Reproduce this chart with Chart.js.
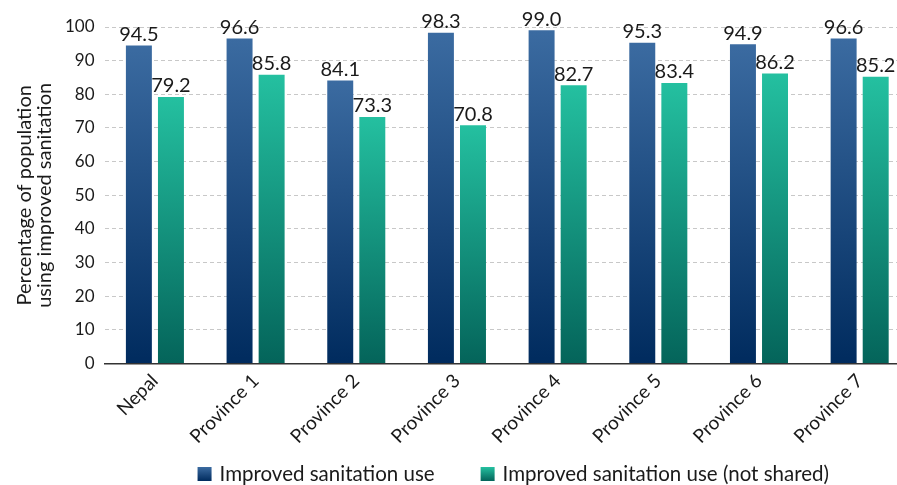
<!DOCTYPE html>
<html>
<head>
<meta charset="utf-8">
<script src="https://cdn.jsdelivr.net/npm/chart.js@4.4.1/dist/chart.umd.min.js"></script>
<style>
  html, body { margin: 0; padding: 0; background: #fff; overflow: hidden; }
  #wrap { width: 910px; height: 485px; }
</style>
</head>
<body>
<div id="wrap"><canvas id="chart"></canvas></div>
<script>
const regions = ["Nepal", "Province 1", "Province 2", "Province 3", "Province 4", "Province 5", "Province 6", "Province 7"];
const improvedUse = [94.5, 96.6, 84.1, 98.3, 99.0, 95.3, 94.9, 96.6];
const notShared = [79.2, 85.8, 73.3, 70.8, 82.7, 83.4, 86.2, 85.2];
const yTicks = [0, 10, 20, 30, 40, 50, 60, 70, 80, 90, 100];
const seriesNames = ["Improved sanitation use", "Improved sanitation use (not shared)"];

const FONT = "Lato, 'Open Sans', sans-serif";
const TEXT = "#1a1a1a";
const blueStops = ["#3b6ba1", "#002b5e"];
const greenStops = ["#24c0a0", "#04645a"];

// vertical gradient from the top of each bar down to the baseline
function barGradient(stops) {
  return (ctx) => {
    const chart = ctx.chart;
    const y = chart.scales.y;
    if (!chart.chartArea || !y || ctx.raw == null) return stops[1];
    const top = y.getPixelForValue(ctx.raw);
    const bottom = y.getPixelForValue(0);
    const g = chart.ctx.createLinearGradient(0, top, 0, bottom);
    g.addColorStop(0, stops[0]);
    g.addColorStop(1, stops[1]);
    return g;
  };
}

// value labels above each bar
const valueLabels = {
  id: "valueLabels",
  afterDatasetsDraw(chart) {
    const c = chart.ctx;
    c.save();
    c.font = "20px " + FONT;
    c.fillStyle = TEXT;
    c.textAlign = "center";
    c.textBaseline = "bottom";
    chart.data.datasets.forEach((ds, i) => {
      chart.getDatasetMeta(i).data.forEach((bar, j) => {
        c.fillText(ds.data[j].toFixed(1), bar.x, bar.y - 1);
      });
    });
    c.restore();
  }
};

// legend row under the axis labels
const bottomLegend = {
  id: "bottomLegend",
  afterDraw(chart) {
    const c = chart.ctx;
    const box = 14, gapText = 8, gapItem = 46, y = 474;
    c.save();
    c.font = "20.5px " + FONT;
    c.textBaseline = "middle";
    const widths = seriesNames.map(t => box + gapText + c.measureText(t).width);
    const total = widths[0] + gapItem + widths[1];
    const area = chart.chartArea;
    let x = (area.left + area.right) / 2 - total / 2 + 6;
    [blueStops, greenStops].forEach((stops, i) => {
      const g = c.createLinearGradient(0, y - box / 2, 0, y + box / 2);
      g.addColorStop(0, stops[0]);
      g.addColorStop(1, stops[1]);
      c.fillStyle = g;
      c.fillRect(x, y - box / 2, box, box);
      c.fillStyle = TEXT;
      c.fillText(seriesNames[i], x + box + gapText, y);
      x += widths[i] + gapItem;
    });
    c.restore();
  }
};

const ctx = document.getElementById("chart").getContext("2d");

new Chart(ctx, {
  type: "bar",
  data: {
    labels: regions,
    datasets: [
      {
        label: seriesNames[0],
        data: improvedUse,
        backgroundColor: barGradient(blueStops),
        categoryPercentage: 0.637,
        barPercentage: 0.81
      },
      {
        label: seriesNames[1],
        data: notShared,
        backgroundColor: barGradient(greenStops),
        categoryPercentage: 0.637,
        barPercentage: 0.81
      }
    ]
  },
  options: {
    responsive: true,
    maintainAspectRatio: false,
    animation: false,
    layout: { padding: { left: 15, right: 0, top: 27, bottom: 31 } },
    plugins: {
      tooltip: { enabled: false },
      legend: { display: false }
    },
    scales: {
      x: {
        grid: { display: false, drawTicks: false },
        border: { color: "#333", width: 1.5 },
        ticks: {
          font: { size: 19, family: FONT },
          color: TEXT,
          maxRotation: 45,
          minRotation: 45,
          padding: 6
        }
      },
      y: {
        min: 0,
        max: 100,
        afterBuildTicks: (axis) => { axis.ticks = yTicks.map(v => ({ value: v })); },
        grid: { color: "#c8c8c8", drawTicks: false },
        border: { display: false, dash: [4, 3] },
        ticks: {
          font: { size: 17, family: FONT },
          color: TEXT,
          padding: 10
        },
        title: {
          display: true,
          text: ["Percentage of population", "using improved sanitation"],
          font: { size: 20, family: FONT, lineHeight: 1.0 },
          color: TEXT,
          padding: { top: 0, bottom: 0 }
        }
      }
    }
  },
  plugins: [valueLabels, bottomLegend]
});
</script>
</body>
</html>
